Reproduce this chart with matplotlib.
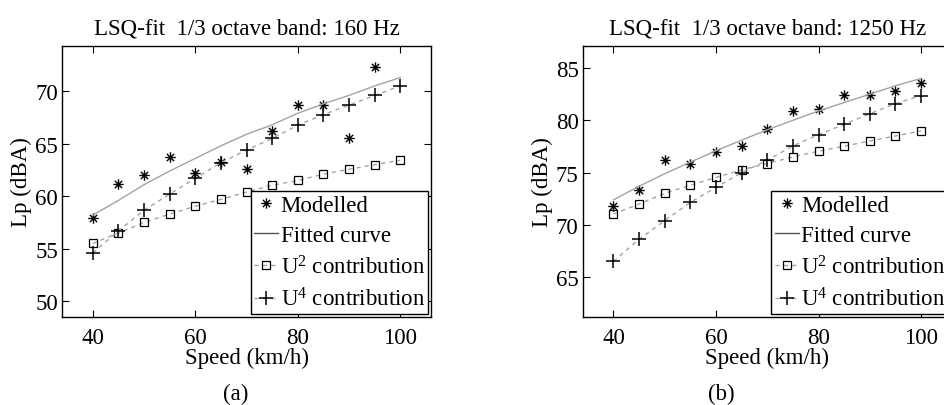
import numpy as np
import matplotlib
matplotlib.use("Agg")
import matplotlib.pyplot as plt
from matplotlib.path import Path

plt.rcParams['font.family'] = ['Liberation Serif', 'DejaVu Serif']
plt.rcParams['mathtext.fontset'] = 'custom'
plt.rcParams['mathtext.rm'] = 'Liberation Serif'
plt.rcParams['mathtext.it'] = 'Liberation Serif:italic'
plt.rcParams['font.size'] = 16.5

# speeds (km/h)
speed = [40, 45, 50, 55, 60, 65, 70, 75, 80, 85, 90, 95, 100]

# 160 Hz band
mod_160 = [57.9, 61.2, 62.0, 63.7, 62.2, 63.3, 62.6, 66.2, 68.7, 68.7, 65.5, 72.3, np.nan]
fit_160 = [58.2, 59.6, 61.1, 62.4, 63.6, 64.8, 65.9, 66.8, 67.9, 68.8, 69.6, 70.5, 71.3]
u2_160 = [55.5, 56.5, 57.5, 58.3, 59.05, 59.7, 60.4, 61.05, 61.5, 62.1, 62.57, 63.0, 63.43]
u4_160 = [54.6, 56.7, 58.67, 60.2, 61.7, 63.2, 64.4, 65.5, 66.76, 67.78, 68.67, 69.6, 70.5]

# 1250 Hz band
mod_1250 = [71.8, 73.3, 76.25, 75.8, 77.0, 77.5, 79.2, 80.9, 81.05, 82.45, 82.45, 82.8, 83.55]
fit_1250 = [72.4, 73.7, 74.9, 76.0, 77.1, 78.1, 79.1, 80.0, 80.9, 81.7, 82.5, 83.3, 84.0]
u2_1250 = [71.05, 72.0, 73.02, 73.8, 74.54, 75.27, 75.87, 76.5, 77.05, 77.52, 78.03, 78.5, 78.98]
u4_1250 = [66.52, 68.64, 70.42, 72.16, 73.59, 75.0, 76.19, 77.55, 78.63, 79.61, 80.63, 81.58, 82.37]

titles = ['LSQ-fit  1/3 octave band: 160 Hz', 'LSQ-fit  1/3 octave band: 1250 Hz']
ylims = [(48.5, 74.3), (61.2, 87.1)]
yticks = [[50, 55, 60, 65, 70], [65, 70, 75, 80, 85]]

# matlab style asterisk
star = Path([(-1, 0), (1, 0), (0, -1), (0, 1), (-0.7, -0.7), (0.7, 0.7), (-0.7, 0.7), (0.7, -0.7)],
            [Path.MOVETO, Path.LINETO] * 4)

grey = '#a3a3a3'

fig = plt.figure(figsize=(9.44, 4.06), dpi=100)
axes = [fig.add_axes([0.0657, 0.2167, 0.391, 0.6675]),
        fig.add_axes([0.6173, 0.2167, 0.391, 0.6675])]

sets = [(mod_160, fit_160, u2_160, u4_160), (mod_1250, fit_1250, u2_1250, u4_1250)]

for i, ax in enumerate(axes):
    mod, fit, u2, u4 = sets[i]
    ax.plot(speed, mod, linestyle='none', marker=star, markersize=7.5, markeredgecolor='k',
            markeredgewidth=1, color='k', label='Modelled')
    ax.plot(speed, fit, '-', color=grey, lw=1, label='Fitted curve')
    ax.plot(speed, u2, '--', color=grey, lw=1, dashes=(3, 3), marker='s', markersize=5.5,
            markerfacecolor='none', markeredgecolor='k', markeredgewidth=0.9, label='U$^2$ contribution')
    ax.plot(speed, u4, '--', color=grey, lw=1, dashes=(3, 3), marker='+', markersize=9.5,
            markeredgecolor='k', markeredgewidth=1.1, label='U$^4$ contribution')
    ax.set_xlim(34, 106)
    ax.set_ylim(*ylims[i])
    ax.set_xticks([40, 60, 80, 100])
    ax.set_yticks(yticks[i])
    ax.tick_params(direction='in', top=True, right=True, length=5, width=0.8, pad=3)
    ax.tick_params(axis='x', pad=7.5)
    for s in ax.spines.values():
        s.set_linewidth(1)
    ax.set_title(titles[i], pad=9, fontsize=16.5)
    ax.set_xlabel('Speed (km/h)', labelpad=-1)
    ax.set_ylabel('Lp (dBA)', labelpad=2)
    leg = ax.legend(loc='lower right', borderaxespad=0.12, handlelength=1.05, handletextpad=0.1,
                    borderpad=0.15, labelspacing=0.4, fancybox=False, framealpha=1,
                    edgecolor='k')
    leg.get_frame().set_linewidth(1)
    leg.get_lines()[1].set_color('#555555')

fig.text(0.25, 0.0296, '(a)', ha='center', va='center')
fig.text(0.764, 0.0296, '(b)', ha='center', va='center')

fig.savefig('out.png', dpi=100)
